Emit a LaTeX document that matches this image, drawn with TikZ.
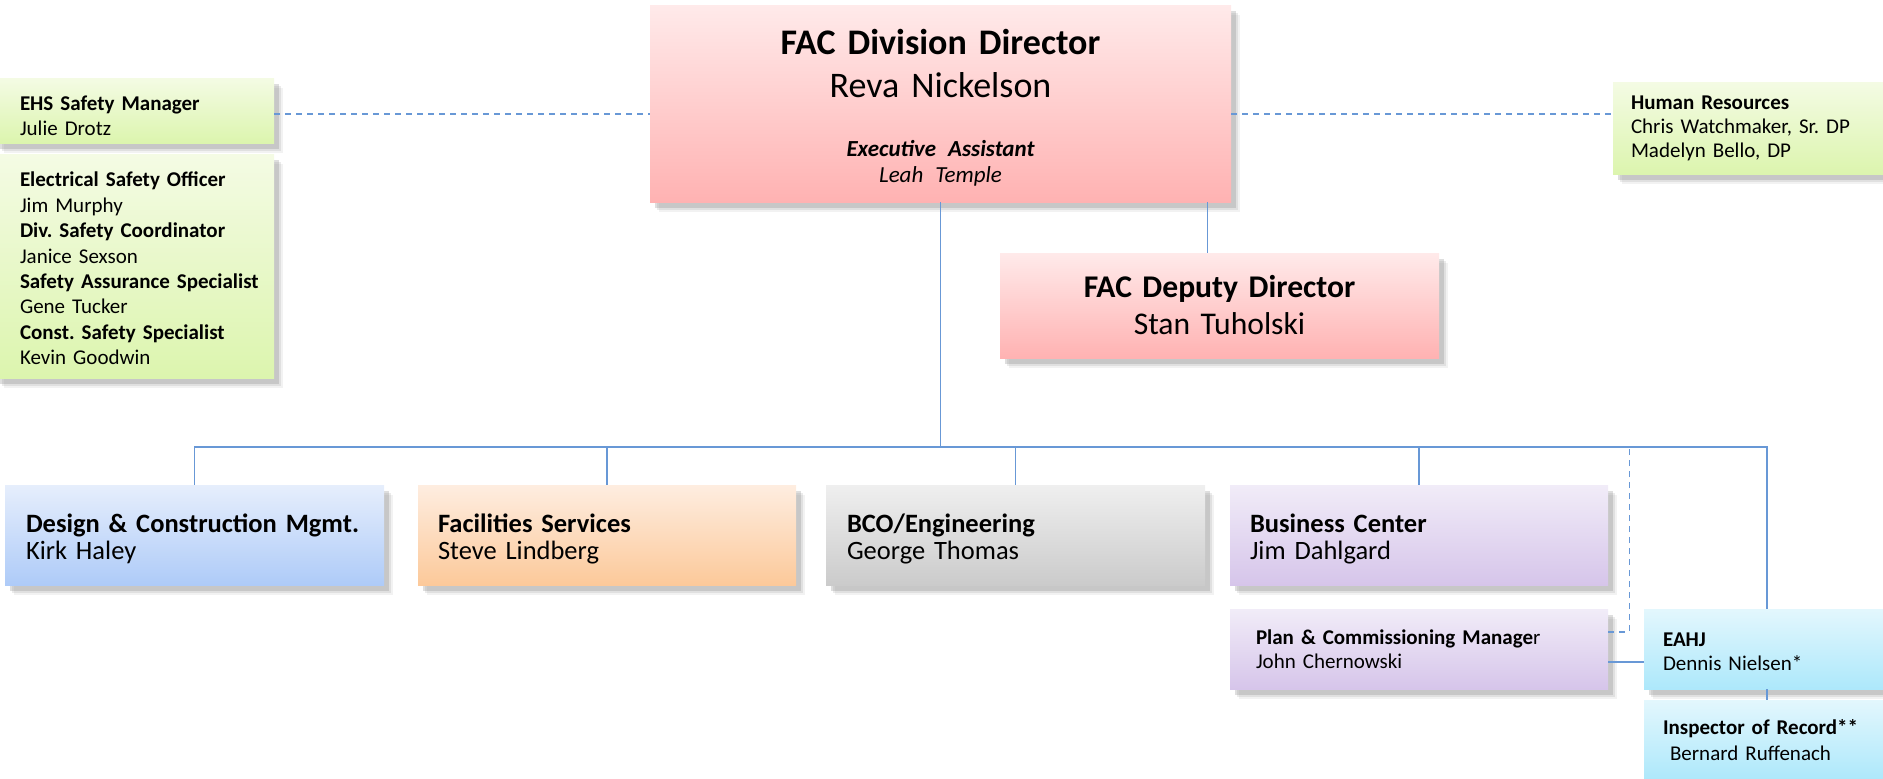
\documentclass[tikz,border=0pt]{standalone}
\usepackage{fontspec}
\setmainfont{Carlito}
\frenchspacing
\usetikzlibrary{shadows}
\definecolor{linea}{RGB}{104,152,214}
\definecolor{rosaA}{RGB}{255,234,234}
\definecolor{rosaB}{RGB}{255,178,178}
\definecolor{verdeA}{RGB}{244,251,228}
\definecolor{verdeB}{RGB}{220,245,174}
\definecolor{azulA}{RGB}{230,238,252}
\definecolor{azulB}{RGB}{174,203,248}
\definecolor{naranjaA}{RGB}{254,237,224}
\definecolor{naranjaB}{RGB}{252,201,154}
\definecolor{grisA}{RGB}{239,239,239}
\definecolor{grisB}{RGB}{203,203,203}
\definecolor{moradoA}{RGB}{241,236,248}
\definecolor{moradoB}{RGB}{214,197,234}
\definecolor{cianA}{RGB}{227,247,253}
\definecolor{cianB}{RGB}{173,232,251}
\begin{document}
\begin{tikzpicture}[x=0.5pt,y=-0.5pt,
    caja/.style n args={3}{rectangle, inner ysep=0pt, text width=#1, inner xsep=#2,
      minimum height=#3, align=left,
      drop shadow={shadow xshift=4.5pt,shadow yshift=-5pt,opacity=0.1},
      drop shadow={shadow xshift=3.5pt,shadow yshift=-4pt,opacity=0.16},
      drop shadow={shadow xshift=2.5pt,shadow yshift=-3pt,opacity=0.26}},
    rosa/.style={top color=rosaA, bottom color=rosaB},
    verde/.style={top color=verdeA, bottom color=verdeB},
    azul/.style={top color=azulA, bottom color=azulB},
    naranja/.style={top color=naranjaA, bottom color=naranjaB},
    gris/.style={top color=grisA, bottom color=grisB},
    morado/.style={top color=moradoA, bottom color=moradoB},
    cian/.style={top color=cianA, bottom color=cianB},
    chica/.style={font=\fontsize{10.5}{12.5}\selectfont},
    grande/.style={font=\fontsize{13.25}{13.5}\selectfont, text height=12.9pt},
    conexion/.style={draw=linea, line width=0.75pt},
    punteada/.style={draw=linea, line width=0.6pt, dash pattern=on 3pt off 2.5pt}]
    \useasboundingbox (0,0) rectangle (1883,778);
    % direccion
    \node[caja={270pt}{10.25pt}{98.5pt}, rosa, align=center, text height=16.7pt,
          font=\fontsize{18}{21.5}\selectfont] (dir) at (940.5,103.5)
        {\textbf{FAC Division Director}\\ Reva Nickelson\\[8pt]
         {\fontsize{11.5}{21.5}\selectfont\bfseries\itshape Executive Assistant}\\[-8.5pt]
         {\fontsize{11.5}{21.5}\selectfont\itshape Leah Temple}};
    \node[caja={200pt}{9.75pt}{52.5pt}, rosa, align=center, font=\fontsize{15.8}{18.5}\selectfont] (dep) at (1219.5,305.5)
        {\textbf{FAC Deputy Director}\\ Stan Tuholski};
    % seguridad y RRHH
    \node[caja={114.5pt}{12.5pt}{32.5pt}, verde, chica, text height=12.8pt] (ehs) at (134.5,110.5)
        {\textbf{EHS Safety Manager}\\ Julie Drotz};
    \node[caja={114.5pt}{12.5pt}{112pt}, verde, font=\fontsize{10.5}{12.7}\selectfont, text height=9.9pt] (seg) at (134.5,266)
        {\textbf{Electrical Safety Officer}\\ Jim Murphy\\
         \textbf{Div. Safety Coordinator}\\ Janice Sexson\\
         \mbox{\textbf{Safety Assurance Specialist}}\\ Gene Tucker\\
         \textbf{Const. Safety Specialist}\\ Kevin Goodwin};
    \node[caja={120.5pt}{9pt}{46pt}, verde, font=\fontsize{10.5}{12}\selectfont] (rh) at (1751.5,128)
        {\textbf{Human Resources}\\ Chris Watchmaker, Sr. DP\\ Madelyn Bello, DP};
    % areas
    \node[caja={168.5pt}{10.5pt}{50pt}, azul, grande] (des) at (194.5,535)
        {\textbf{Design \& Construction Mgmt.}\\ Kirk Haley};
    \node[caja={169pt}{10pt}{50pt}, naranja, grande] (fac) at (607,535)
        {\textbf{Facilities Services}\\ Steve Lindberg};
    \node[caja={168.5pt}{10.5pt}{50pt}, gris, grande] (bco) at (1015.5,535)
        {\textbf{BCO/Engineering}\\ George Thomas};
    \node[caja={169pt}{10pt}{50pt}, morado, grande] (biz) at (1419,535)
        {\textbf{Business Center}\\ Jim Dahlgard};
    \node[caja={163pt}{13pt}{40pt}, morado, font=\fontsize{10.5}{12}\selectfont] (plan) at (1419,649)
        {\textbf{Plan \& Commissioning Manage}r\\ John Chernowski};
    \node[caja={104pt}{9.5pt}{40pt}, cian, font=\fontsize{10.5}{12}\selectfont, text height=9.2pt] (eahj) at (1767,649)
        {\textbf{EAHJ}\\ Dennis Nielsen*};
    \node[caja={104pt}{9.5pt}{40pt}, cian, font=\fontsize{10.5}{13}\selectfont] (ior) at (1767,740)
        {\textbf{Inspector of Record**}\\ \ Bernard Ruffenach};
    % lineas
    \coordinate (bus) at (941,447);
    \draw[conexion] (dir.south) -- (dir.south |- bus); % tronco
    \draw[conexion] (des.north) |- (bus) -| (eahj.north); % barra
    \foreach \n in {fac,bco,biz}
        \draw[conexion] (\n.north) -- (\n.north |- bus);
    \draw[conexion] (eahj.south) -- (ior.north);
    \draw[conexion] ([yshift=-6.5pt]plan.east) -- ([yshift=-6.5pt]eahj.west);
    \draw[punteada] ([yshift=8.5pt]plan.east) -| ([xshift=10.5pt]plan.east |- bus);
    \draw[conexion] ([xshift=-6pt]dep.north) -- ([xshift=-6pt]dep.north |- dir.south);
    \draw[punteada] ([yshift=-1.75pt]ehs.east) -- ([yshift=-1.75pt]ehs.east -| dir.west);
    \draw[punteada] ([yshift=-1.75pt]ehs.east -| dir.east) -- ([yshift=-1.75pt]ehs.east -| rh.west);
\end{tikzpicture}
\end{document}
